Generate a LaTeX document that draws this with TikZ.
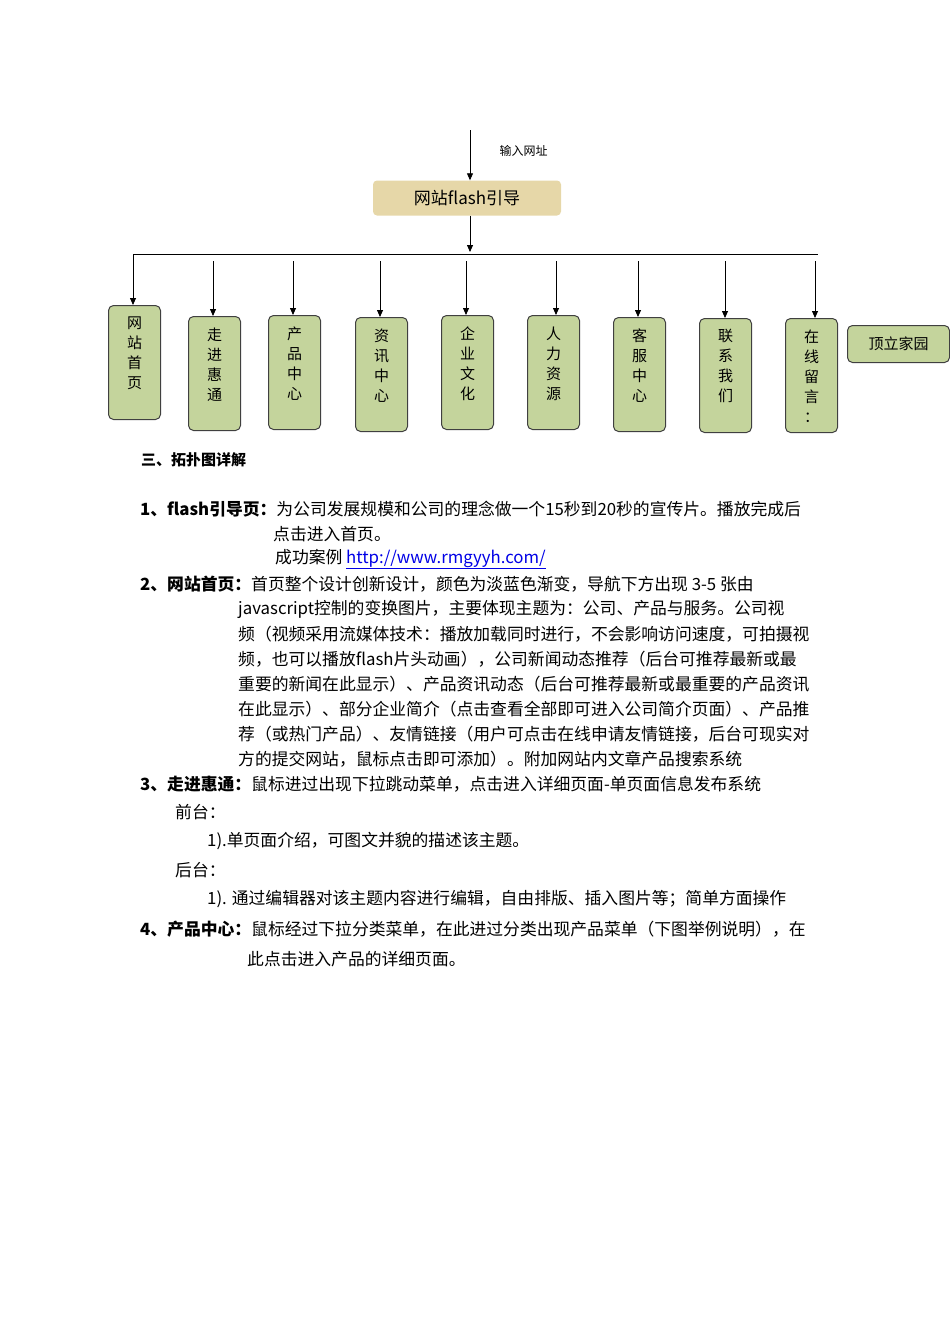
\documentclass[tikz,border=0pt]{standalone}
\usepackage{fontspec}
\setmainfont{Noto Sans CJK SC}
\usetikzlibrary{arrows.meta}
\begin{document}
\begin{tikzpicture}[x=1pt,y=-1pt,
  arr/.style={-{Triangle[length=7pt,width=6pt]},line width=0.8pt},
  vbox/.style={draw=black!75,line width=1pt,fill=boxgreen,rounded corners=5pt,minimum width=52pt,anchor=north west,inner sep=0pt},
  vtxt/.style={anchor=north,align=center,font=\fontsize{15}{20}\selectfont},
  body/.style={anchor=west,inner sep=0pt,font=\fontsize{16.8}{18}\selectfont},
  bb/.style={body,font=\fontsize{15}{18}\selectfont\bfseries}]
\definecolor{boxgreen}{RGB}{196,212,156}
\definecolor{tan}{RGB}{230,215,168}
\definecolor{linkblue}{RGB}{0,0,230}
\useasboundingbox (0,0) rectangle (950,1344);
\coordinate (top) at (470,130);
\node[fill=tan,rounded corners=4pt,minimum width=188pt,minimum height=35pt,font=\fontsize{17}{20}\selectfont] (flash) at (467,198) {网站flash引导};
\draw[arr] (top) -- (top |- flash.north);
\node[anchor=west,font=\fontsize{12}{14}\selectfont] (lbl) at (496,151) {输入网址};
\coordinate (bus) at (470,252);
\draw[arr] (bus |- flash.south) -- (bus);
\coordinate (busL) at (133,254);
\coordinate (busR) at (818,254);
\draw[line width=1pt] (busL) -- (busR);
\foreach \n/\x/\y/\h/\ax/\ay/\t in {
 a/108/305/114/133/254/网\\站\\首\\页,
 b/188/316/114/213/261/走\\进\\惠\\通,
 c/268/315/114/293/261/产\\品\\中\\心,
 d/355/317/114/380/261/资\\讯\\中\\心,
 e/441/315/114/466/261/企\\业\\文\\化,
 f/527/315/114/556/261/人\\力\\资\\源,
 g/613/317/114/638/261/客\\服\\中\\心,
 h/699/318/114/725/261/联\\系\\我\\们,
 i/785/318/114/815/261/在\\线\\留\\言\\：}{
  \node[vbox,minimum height=\h pt] (\n) at (\x,\y) {};
  \node[vtxt] (\n t) at ([yshift=-8pt]\n.north) {\t};
  \coordinate (\n s) at (\ax,\ay);
  \draw[arr] (\n s) -- (\ax,\y);
}
\node[draw=black!75,line width=1pt,fill=boxgreen,rounded corners=5pt,minimum width=102pt,minimum height=37pt,anchor=north west,font=\fontsize{15}{18}\selectfont] (j) at (847,325) {顶立家园};
\node[bb] (s3) at (141,460) {三、拓扑图详解};
\node[body] (l1) at (140,509) {\textbf{1、flash引导页：}为公司发展规模和公司的理念做一个15秒到20秒的宣传片。播放完成后};
\node[body] (l2) at (273,534) {点击进入首页。};
\node[body] (l3) at (275,559) {成功案例 \textcolor{linkblue}{\underline{http://www.rmgyyh.com/}}};
\node[body] (l4) at (140,584) {\textbf{2、网站首页：}首页整个设计创新设计，颜色为淡蓝色渐变，导航下方出现 3-5 张由};
\node[body] (l5) at (238,609) {javascript控制的变换图片，主要体现主题为：公司、产品与服务。公司视};
\node[body] (l6) at (238,634) {频（视频采用流媒体技术：播放加载同时进行，不会影响访问速度，可拍摄视};
\node[body] (l7) at (238,659) {频，也可以播放flash片头动画），公司新闻动态推荐（后台可推荐最新或最};
\node[body] (l8) at (238,684) {重要的新闻在此显示）、产品资讯动态（后台可推荐最新或最重要的产品资讯};
\node[body] (l9) at (238,709) {在此显示）、部分企业简介（点击查看全部即可进入公司简介页面）、产品推};
\node[body] (l10) at (238,734) {荐（或热门产品）、友情链接（用户可点击在线申请友情链接，后台可现实对};
\node[body] (l11) at (238,759) {方的提交网站，鼠标点击即可添加）。附加网站内文章产品搜索系统};
\node[body] (l12) at (140,784) {\textbf{3、走进惠通：}鼠标进过出现下拉跳动菜单，点击进入详细页面-单页面信息发布系统};
\node[body] (l13) at (175,812) {前台：};
\node[body] (l14) at (207,841) {1).单页面介绍，可图文并貌的描述该主题。};
\node[body] (l15) at (175,870) {后台：};
\node[body] (l16) at (207,899) {1). 通过编辑器对该主题内容进行编辑，自由排版、插入图片等；简单方面操作};
\node[body] (l17) at (140,929) {\textbf{4、产品中心：}鼠标经过下拉分类菜单，在此进过分类出现产品菜单（下图举例说明），在};
\node[body] (l18) at (247,959) {此点击进入产品的详细页面。};
\end{tikzpicture}
\end{document}
